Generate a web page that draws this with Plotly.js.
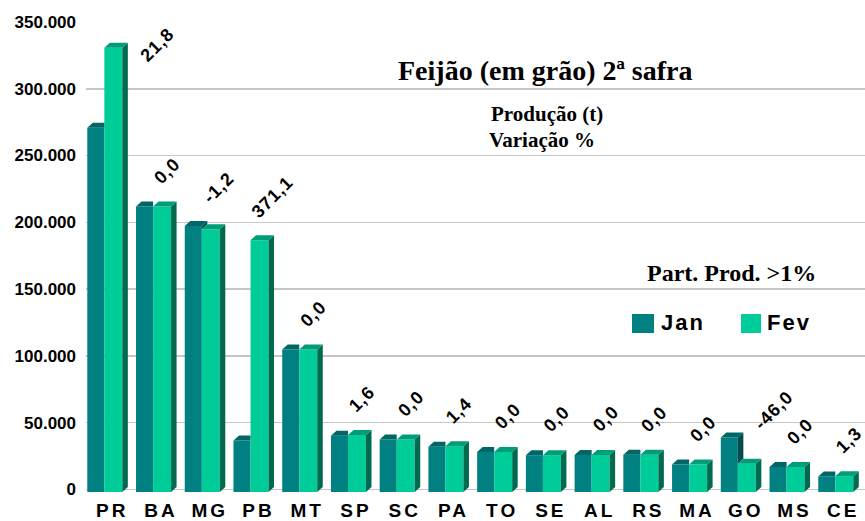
<!DOCTYPE html>
<html>
<head>
<meta charset="utf-8">
<script src="https://cdn.plot.ly/plotly-3.0.1.min.js"></script>
<style>
  html, body { margin: 0; padding: 0; background: #fff; }
  #chart { width: 865px; height: 521px; }
  .xtick text { letter-spacing: 3px; }
</style>
</head>
<body>
<div id="chart"></div>
<script>
// ---- data ----
const categorias = ['PR','BA','MG','PB','MT','SP','SC','PA','TO','SE','AL','RS','MA','GO','MS','CE'];
const producaoJan = [274500, 215500, 201000, 40400, 108500, 43800, 41000, 35600, 31700, 29300, 29500, 29700, 22300, 42500, 20500, 13400];
const producaoFev = [334400, 215500, 198500, 190300, 108500, 44500, 41000, 36100, 31700, 29300, 29500, 29700, 22300, 22950, 20500, 13600];
const variacao = [21.8, 0.0, -1.2, 371.1, 0.0, 1.6, 0.0, 1.4, 0.0, 0.0, 0.0, 0.0, 0.0, -46.0, 0.0, 1.3];
const yTicks = [0, 50000, 100000, 150000, 200000, 250000, 300000, 350000];
const serieNomes = ['Jan', 'Fev'];
const titulo = 'Feijão (em grão) 2ª safra';
const subtitulo1 = 'Produção (t)';
const subtitulo2 = 'Variação %';
const nota = 'Part. Prod. >1%';

// ---- geometry / style ----
const W = 865, Hh = 521;
const L = 86, R = 0, T = 22, B = 29;
const plotW = W - L - R, plotH = Hh - T - B;
const yMin = -2000, yMax = 350000;
const catPx = 48.73;
const x0 = -(112.3 - L) / catPx;
const x1 = x0 + plotW / catPx;
const unitPerPxY = (yMax - yMin) / plotH;
const dx = 5.5 / catPx;          // depth in x units
const dyV = 5 * unitPerPxY;      // depth in y units
const janOff = -0.513, janW = 0.35;
const fevOff = -0.163, fevW = 0.369;

const cJanFront = '#008080', cJanTop = '#006666', cJanSide = '#004c4c';
const cFevFront = '#00cc99', cFevTop = '#009e78', cFevSide = '#006a4e';

const xs = categorias.map((c, i) => i);

const frontJan = {
  type: 'bar', x: xs, y: producaoJan.map(v => v - dyV - yMin), base: yMin,
  offset: janOff, width: janW, marker: {color: cJanFront, line: {width: 0}},
  name: serieNomes[0], showlegend: false, hoverinfo: 'skip'
};
const frontFev = {
  type: 'bar', x: xs, y: producaoFev.map(v => v - dyV - yMin), base: yMin,
  offset: fevOff, width: fevW, marker: {color: cFevFront, line: {width: 0}},
  name: serieNomes[1], showlegend: false, hoverinfo: 'skip'
};

function poly(list) {
  const px = [], py = [];
  list.forEach(p => {
    if (!p) return;
    p.forEach(q => { px.push(q[0]); py.push(q[1]); });
    px.push(null); py.push(null);
  });
  return {px, py};
}

const janSides = [], janTops = [], fevSides = [], fevTops = [];
xs.forEach(i => {
  const jv = producaoJan[i], fv = producaoFev[i];
  const a0 = i + janOff, a = i + fevOff, b = i + fevOff + fevW;
  if (jv > fv) {
    janSides.push([[a, fv - dyV], [a, jv - dyV], [a + dx, jv], [a + dx, fv]]);
    janTops.push([[a0, jv - dyV], [a0 + dx, jv], [a + dx, jv], [a, jv - dyV]]);
  } else {
    janTops.push([[a0, jv - dyV], [a0 + dx, jv], [a, jv], [a, jv - dyV]]);
  }
  fevSides.push([[b, yMin], [b, fv - dyV], [b + dx, fv], [b + dx, yMin + dyV]]);
  fevTops.push([[a, fv - dyV], [a + dx, fv], [b + dx, fv], [b, fv - dyV]]);
});

function faceTrace(list, color) {
  const p = poly(list);
  return {type: 'scatter', mode: 'lines', x: p.px, y: p.py, fill: 'toself',
          fillcolor: color, line: {width: 0, color: color}, hoverinfo: 'skip', showlegend: false};
}

const data = [
  frontJan, frontFev,
  faceTrace(janSides, cJanSide),
  faceTrace(janTops, cJanTop),
  faceTrace(fevSides, cFevSide),
  faceTrace(fevTops, cFevTop)
];

// ---- annotations ----
const pxX = px => (px - L) / plotW;
const pxY = py => (T + plotH - py) / plotH;

function textWidth(s) {
  let w = 0;
  for (const ch of s) {
    if (ch === ',' || ch === '.') w += 6;
    else if (ch === '-') w += 7;
    else w += 11;
  }
  return w;
}
const nudge = {PR: [35, 37], GO: [16, 15]};

const annotations = [];
xs.forEach(i => {
  const txt = variacao[i].toFixed(1).replace('.', ',');
  const h = 0.3536 * textWidth(txt);
  const n = nudge[categorias[i]] || [0, 0];
  annotations.push({
    x: i, y: Math.max(producaoJan[i], producaoFev[i]), xref: 'x', yref: 'y',
    text: '<span style="letter-spacing:1px">' + txt + '</span>', showarrow: false, textangle: -45,
    xanchor: 'center', yanchor: 'middle',
    xshift: -4 + h + n[0], yshift: 21 + h - n[1],
    font: {family: 'Liberation Sans, Arial, sans-serif', size: 18, weight: 'bold', color: '#000'}
  });
});

const serif = 'Liberation Serif, Times New Roman, serif';
const sans = 'Liberation Sans, Arial, sans-serif';
annotations.push(
  {xref: 'paper', yref: 'paper', x: pxX(545), y: pxY(70), text: titulo, showarrow: false,
   xanchor: 'center', yanchor: 'middle', font: {family: serif, size: 28, weight: 'bold', color: '#000'}},
  {xref: 'paper', yref: 'paper', x: pxX(547), y: pxY(114), text: subtitulo1, showarrow: false,
   xanchor: 'center', yanchor: 'middle', font: {family: serif, size: 21, weight: 'bold', color: '#000'}},
  {xref: 'paper', yref: 'paper', x: pxX(542), y: pxY(140), text: subtitulo2, showarrow: false,
   xanchor: 'center', yanchor: 'middle', font: {family: serif, size: 21, weight: 'bold', color: '#000'}},
  {xref: 'paper', yref: 'paper', x: pxX(731), y: pxY(273), text: nota, showarrow: false,
   xanchor: 'center', yanchor: 'middle', font: {family: serif, size: 24, weight: 'bold', color: '#000'}},
  {xref: 'paper', yref: 'paper', x: pxX(659), y: pxY(322), text: '<span style="letter-spacing:2px">' + serieNomes[0] + '</span>', showarrow: false,
   xanchor: 'left', yanchor: 'middle', font: {family: sans, size: 22, weight: 'bold', color: '#000'}},
  {xref: 'paper', yref: 'paper', x: pxX(765), y: pxY(322), text: '<span style="letter-spacing:2px">' + serieNomes[1] + '</span>', showarrow: false,
   xanchor: 'left', yanchor: 'middle', font: {family: sans, size: 22, weight: 'bold', color: '#000'}}
);

const shapes = [
  {type: 'rect', xref: 'paper', yref: 'paper', x0: pxX(632), x1: pxX(654), y0: pxY(333), y1: pxY(314),
   fillcolor: cJanFront, line: {width: 0}},
  {type: 'rect', xref: 'paper', yref: 'paper', x0: pxX(741), x1: pxX(761), y0: pxY(333), y1: pxY(314),
   fillcolor: cFevFront, line: {width: 0}}
];

const layout = {
  width: W, height: Hh,
  margin: {l: L, r: R, t: T, b: B, pad: 0},
  paper_bgcolor: '#fff', plot_bgcolor: '#fff',
  separators: ',.',
  showlegend: false,
  barmode: 'overlay',
  xaxis: {
    range: [x0, x1], tickmode: 'array', tickvals: xs, ticktext: categorias,
    showgrid: false, zeroline: false, showline: false, ticks: '',
    ticklabelstandoff: 5,
    tickfont: {family: sans, size: 19, weight: 'bold', color: '#000'},
    fixedrange: true
  },
  yaxis: {
    range: [yMin, yMax], tickmode: 'array', tickvals: yTicks, tickformat: ',.0f',
    showgrid: true, gridcolor: '#c6c6c6', gridwidth: 1.5, zeroline: false, showline: false, ticks: '',
    ticklabelstandoff: 9,
    tickfont: {family: sans, size: 17, weight: 'bold', color: '#000'},
    fixedrange: true
  },
  annotations: annotations,
  shapes: shapes
};

Plotly.newPlot('chart', data, layout, {staticPlot: true, displayModeBar: false});
</script>
</body>
</html>
